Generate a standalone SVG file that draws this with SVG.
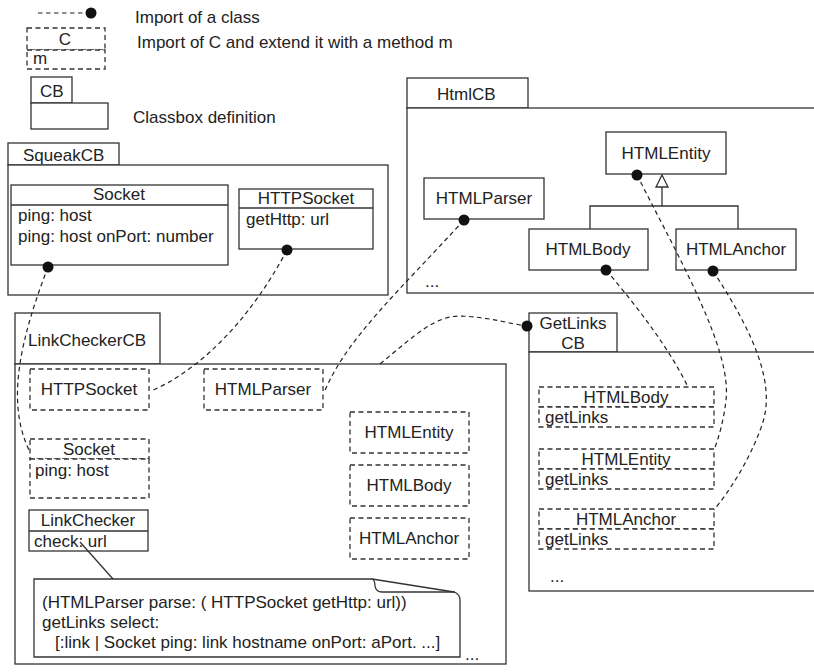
<svg xmlns="http://www.w3.org/2000/svg" width="814" height="672" viewBox="0 0 814 672">
<style>
text{font-family:"Liberation Sans",Arial,sans-serif;font-size:17px;fill:#222}
.s{fill:#fff;stroke:#333;stroke-width:1.3}
.d{fill:#fff;stroke:#333;stroke-width:1.3;stroke-dasharray:5 3.5}
.dl{fill:none;stroke:#333;stroke-width:1.3;stroke-dasharray:5 3.5}
.ln{fill:none;stroke:#333;stroke-width:1.3}
.c{fill:none;stroke:#222;stroke-width:1.2;stroke-dasharray:4.5 3.5}
.dot{fill:#111}
.m{text-anchor:middle}
</style>
<rect width="814" height="672" fill="#fff"/>

<g id="legend">
<line x1="38" y1="13" x2="86" y2="13" class="c"/>
<circle cx="91" cy="13" r="5.5" class="dot"/>
<text x="135" y="23">Import of a class</text>
<rect x="27" y="28" width="78" height="22" class="d"/>
<rect x="27" y="50" width="78" height="19" class="d"/>
<text x="65" y="45" class="m">C</text>
<text x="33" y="64">m</text>
<text x="137" y="48">Import of C and extend it with a method m</text>
<rect x="31" y="77" width="41" height="26" class="s"/>
<rect x="31" y="103" width="77" height="26" class="s"/>
<text x="40" y="97">CB</text>
<text x="133" y="123">Classbox definition</text>
</g>

<g id="SqueakCB">
<rect x="8" y="143" width="111" height="22" class="s"/>
<rect x="8" y="165" width="380" height="130" class="s"/>
<text x="23" y="161">SqueakCB</text>
<g id="Squeak-Socket">
<rect x="11" y="185" width="217" height="80" class="s"/>
<line x1="11" y1="205" x2="228" y2="205" class="ln"/>
<text x="119" y="200" class="m">Socket</text>
<text x="18" y="221">ping: host</text>
<text x="18" y="242">ping: host onPort: number</text>
</g>
<g id="Squeak-HTTPSocket">
<rect x="239" y="189" width="134" height="60" class="s"/>
<line x1="239" y1="208" x2="373" y2="208" class="ln"/>
<text x="306" y="204" class="m">HTTPSocket</text>
<text x="246" y="225">getHttp: url</text>
</g>
</g>

<g id="HtmlCB">
<rect x="407" y="78" width="121" height="30" class="s"/>
<rect x="407" y="108" width="420" height="185" class="s"/>
<text x="437" y="100">HtmlCB</text>
<g id="Html-HTMLEntity">
<rect x="606" y="132" width="120" height="42" class="s"/>
<text x="666" y="159" class="m">HTMLEntity</text>
</g>
<g id="Html-HTMLParser">
<rect x="424" y="178" width="120" height="41" class="s"/>
<text x="484" y="204" class="m">HTMLParser</text>
</g>
<g id="Html-HTMLBody">
<rect x="529" y="229" width="119" height="41" class="s"/>
<text x="588" y="255" class="m">HTMLBody</text>
</g>
<g id="Html-HTMLAnchor">
<rect x="676" y="229" width="120" height="41" class="s"/>
<text x="736" y="255" class="m">HTMLAnchor</text>
</g>
<path d="M590,229 V206 H738 V229 M662,206 V187" class="ln"/>
<path d="M662,175 L668,187 H656 Z" class="s"/>
<text x="425" y="287">...</text>
</g>

<g id="LinkCheckerCB">
<rect x="15" y="313" width="145" height="51" class="s"/>
<rect x="15" y="364" width="491" height="300" class="s"/>
<text x="28" y="346">LinkCheckerCB</text>
<g id="LC-HTTPSocket">
<rect x="30" y="369" width="119" height="41" class="d"/>
<text x="89" y="395" class="m">HTTPSocket</text>
</g>
<g id="LC-HTMLParser">
<rect x="204" y="369" width="119" height="41" class="d"/>
<text x="263" y="395" class="m">HTMLParser</text>
</g>
<g id="LC-HTMLEntity">
<rect x="350" y="412" width="119" height="41" class="d"/>
<text x="409" y="438" class="m">HTMLEntity</text>
</g>
<g id="LC-HTMLBody">
<rect x="350" y="465" width="119" height="41" class="d"/>
<text x="409" y="491" class="m">HTMLBody</text>
</g>
<g id="LC-HTMLAnchor">
<rect x="350" y="518" width="119" height="41" class="d"/>
<text x="409" y="544" class="m">HTMLAnchor</text>
</g>
<g id="LC-Socket">
<rect x="30" y="439" width="119" height="20" class="d"/>
<rect x="30" y="459" width="119" height="39" class="d"/>
<text x="89" y="455" class="m">Socket</text>
<text x="35" y="476">ping: host</text>
</g>
<g id="LC-LinkChecker">
<rect x="29" y="510" width="119" height="41" class="s"/>
<line x1="29" y1="531" x2="148" y2="531" class="ln"/>
<text x="88" y="526" class="m">LinkChecker</text>
<text x="34" y="547">check: url</text>
</g>
<g id="LC-note">
<path d="M34,579 H372 L454,592 Q460,594 460,600 V657 H34 Z" class="s"/>
<path d="M372,579 Q375,580 375,586 Q376,592 382,592 H455" class="ln"/>
<text x="42" y="608">(HTMLParser parse: ( HTTPSocket getHttp: url))</text>
<text x="42" y="628">getLinks select:</text>
<text x="55" y="648">[:link | Socket ping: link hostname onPort: aPort. ...]</text>
<text x="465" y="660">...</text>
</g>
<line x1="80" y1="542" x2="113" y2="579" class="ln"/>
</g>

<g id="GetLinksCB">
<rect x="529" y="313" width="88" height="39" class="s"/>
<rect x="529" y="352" width="298" height="239" class="s"/>
<text x="573" y="329" class="m">GetLinks</text>
<text x="573" y="349" class="m">CB</text>
<g id="GL-HTMLBody">
<rect x="539" y="387" width="175" height="20" class="d"/>
<rect x="539" y="407" width="175" height="20" class="d"/>
<text x="626" y="403" class="m">HTMLBody</text>
<text x="545" y="423">getLinks</text>
</g>
<g id="GL-HTMLEntity">
<rect x="539" y="449" width="175" height="20" class="d"/>
<rect x="539" y="469" width="175" height="20" class="d"/>
<text x="626" y="465" class="m">HTMLEntity</text>
<text x="545" y="485">getLinks</text>
</g>
<g id="GL-HTMLAnchor">
<rect x="539" y="509" width="175" height="20" class="d"/>
<rect x="539" y="529" width="175" height="20" class="d"/>
<text x="626" y="525" class="m">HTMLAnchor</text>
<text x="545" y="545">getLinks</text>
</g>
<text x="550" y="582">...</text>
</g>

<g id="connectors">
<path d="M48,267 C22,335 5,400 29,450" class="c"/>
<path d="M287,250 C250,320 200,370 151,391" class="c"/>
<path d="M464,220 C400,290 345,340 324,393" class="c"/>
<path d="M380,364 C415,335 435,316 460,316 C490,317 510,324 527,326" class="c"/>
<path d="M606,270 C640,310 670,350 688,387" class="c"/>
<path d="M637,175 C680,260 732,350 726,400 C724,420 718,440 714,450" class="c"/>
<path d="M713,271 C755,335 776,385 762,425 C748,465 726,495 714,510" class="c"/>
<circle cx="48" cy="267" r="5.5" class="dot"/>
<circle cx="287" cy="250" r="5.5" class="dot"/>
<circle cx="464" cy="220" r="5.5" class="dot"/>
<circle cx="527" cy="326" r="5.5" class="dot"/>
<circle cx="606" cy="270" r="5.5" class="dot"/>
<circle cx="637" cy="175" r="5.5" class="dot"/>
<circle cx="713" cy="271" r="5.5" class="dot"/>
</g>
</svg>
